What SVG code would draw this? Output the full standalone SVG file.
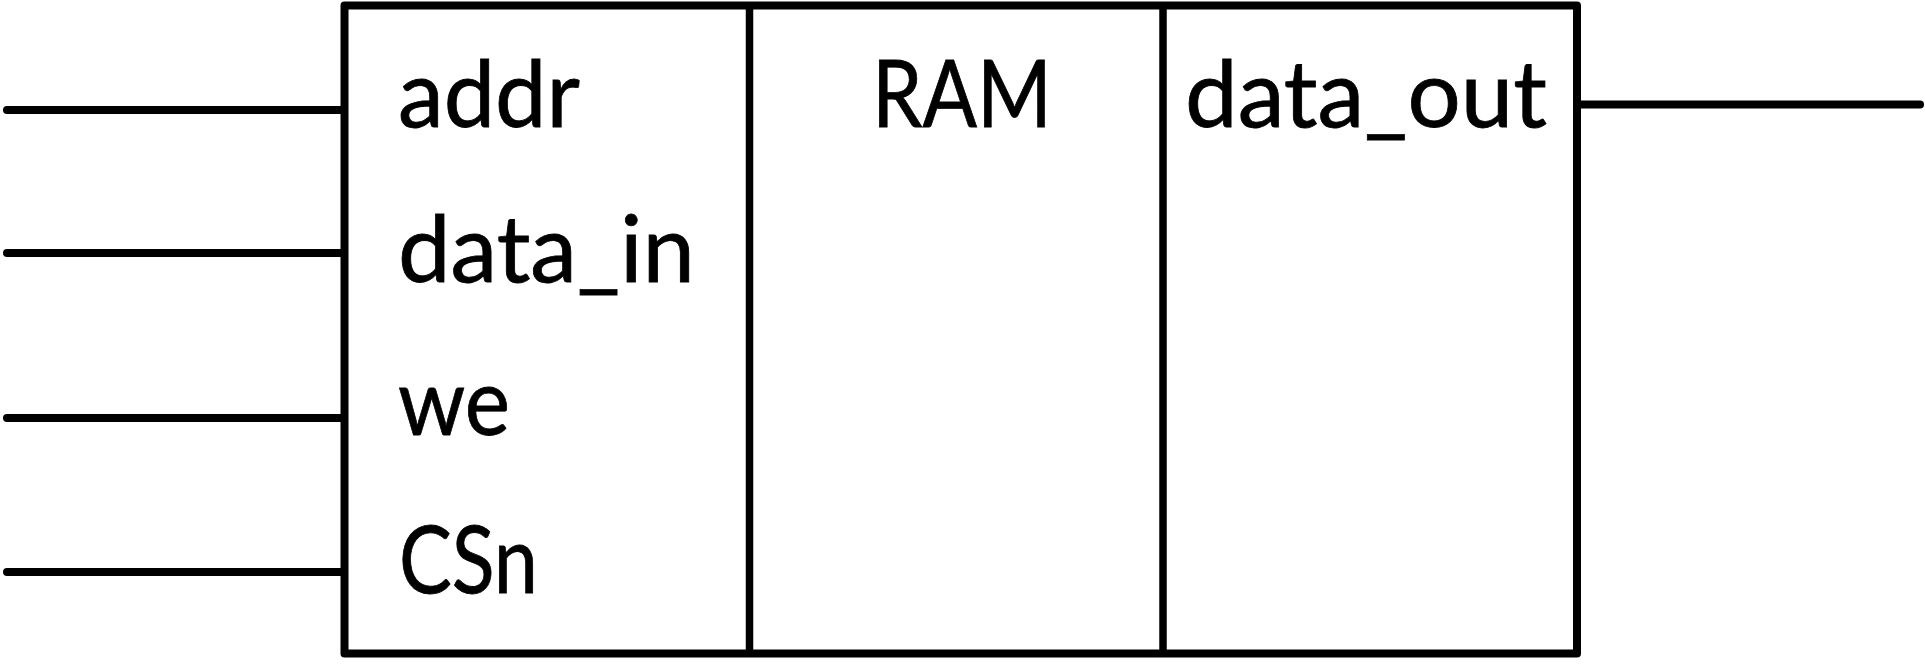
<svg xmlns="http://www.w3.org/2000/svg" width="1925" height="669" viewBox="0 0 1925 669">
  <style>
    .wire { stroke: #000; stroke-width: 8; stroke-linecap: round; fill: none; }
    .frame { stroke: #000; stroke-width: 8; stroke-linejoin: round; fill: #fff; }
    .div { stroke: #000; stroke-width: 7.5; }
    .lbl { font-family: Lato, "Open Sans", "Liberation Sans", sans-serif; font-size: 94px; fill: #000; stroke: #000; stroke-width: 0.8; }
  </style>
  <rect width="1925" height="669" fill="#fff"/>

  <!-- signal wires -->
  <g id="connectors">
    <line class="wire" x1="7" y1="110" x2="344" y2="110"/>
    <line class="wire" x1="7" y1="253" x2="344" y2="253"/>
    <line class="wire" x1="7" y1="418" x2="344" y2="418"/>
    <line class="wire" x1="7" y1="572" x2="344" y2="572"/>
    <line class="wire" x1="1577" y1="104.5" x2="1920" y2="104.5"/>
  </g>

  <!-- RAM block -->
  <g id="ram">
    <rect class="frame" x="344.5" y="5.5" width="1232.5" height="648"/>
    <line class="div" x1="749.5" y1="5.5" x2="749.5" y2="653.5"/>
    <line class="div" x1="1163" y1="5.5" x2="1163" y2="653.5"/>
    <text class="lbl" x="872" y="127" textLength="180" lengthAdjust="spacingAndGlyphs">RAM</text>
  </g>

  <!-- input ports -->
  <g id="port-addr">
    <text class="lbl" x="398" y="127" textLength="182" lengthAdjust="spacingAndGlyphs">addr</text>
  </g>
  <g id="port-data_in">
    <text class="lbl" x="398" y="282" textLength="297" lengthAdjust="spacingAndGlyphs">data_in</text>
  </g>
  <g id="port-we">
    <text class="lbl" x="398" y="435" textLength="112" lengthAdjust="spacingAndGlyphs">we</text>
  </g>
  <g id="port-CSn">
    <text class="lbl" x="399" y="593" textLength="139" lengthAdjust="spacingAndGlyphs">CSn</text>
  </g>

  <!-- output port -->
  <g id="port-data_out">
    <text class="lbl" x="1185" y="127" textLength="362" lengthAdjust="spacingAndGlyphs">data_out</text>
  </g>
</svg>
